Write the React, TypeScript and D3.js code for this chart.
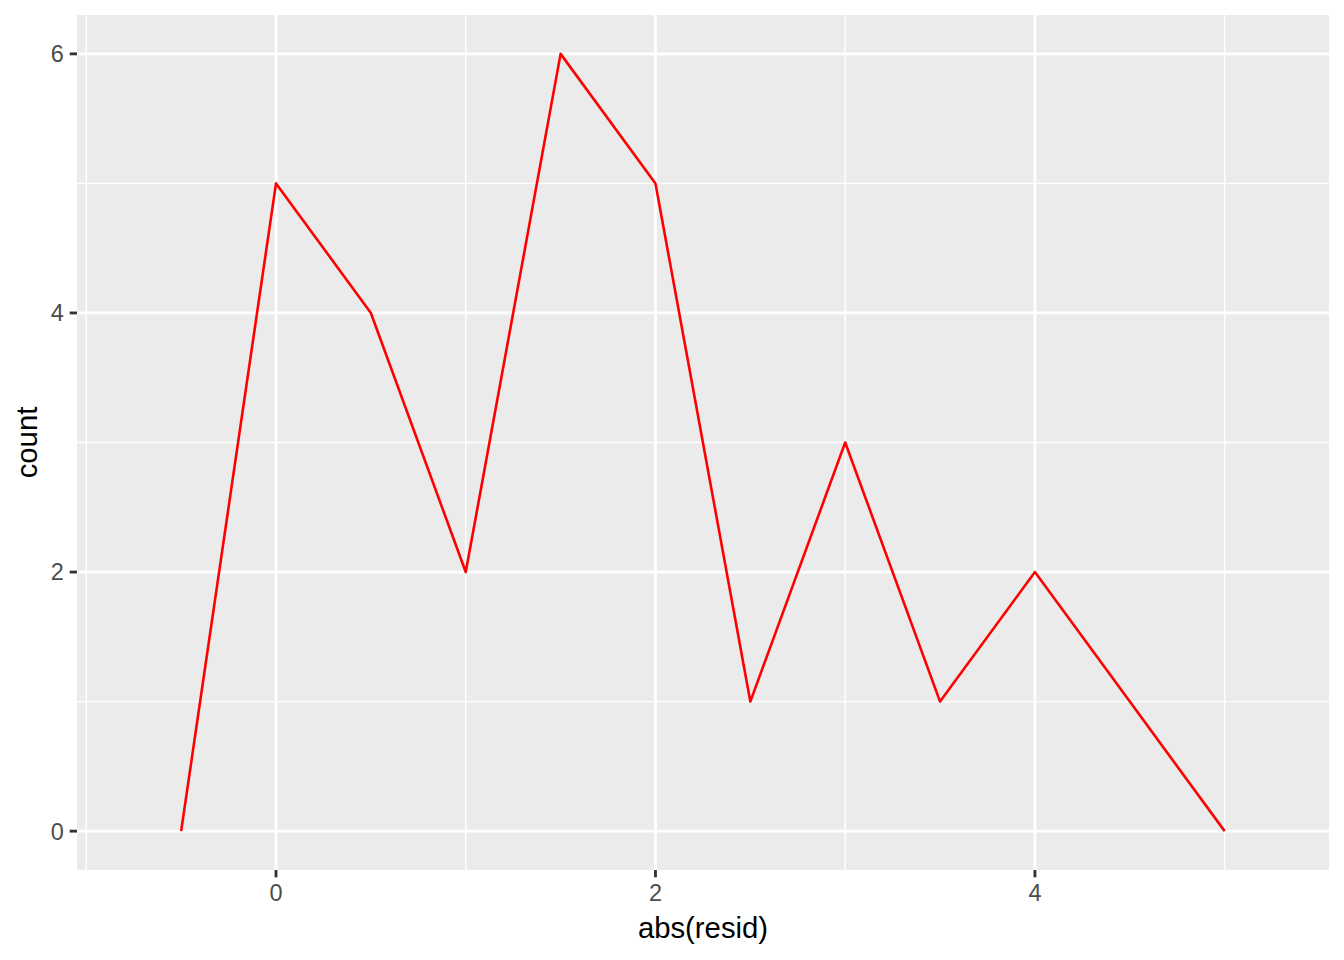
import React from "react";
import * as d3 from "d3";

const xValues = [-0.5, 0, 0.5, 1, 1.5, 2, 2.5, 3, 3.5, 4, 4.5, 5];
const counts = [0, 5, 4, 2, 6, 5, 1, 3, 1, 2, 1, 0];
const xBreaks = [0, 2, 4];
const xMinorBreaks = [-1, 1, 3, 5];
const yBreaks = [0, 2, 4, 6];
const yMinorBreaks = [1, 3, 5];
const xLimits = [-0.749, 5.25];
const yLimits = [0, 6];
const xTitle = "abs(resid)";
const yTitle = "count";

const W = 1344;
const H = 960;
const panel = { left: 77, right: 1329, top: 15, bottom: 870 };

function expand(lim: number[]) {
  const d = (lim[1] - lim[0]) * 0.05;
  return [lim[0] - d, lim[1] + d];
}

export default function App() {
  const x = d3.scaleLinear().domain(expand(xLimits)).range([panel.left, panel.right]);
  const y = d3.scaleLinear().domain(expand(yLimits)).range([panel.bottom, panel.top]);
  const line = d3
    .line<number>()
    .x((_, i) => x(xValues[i]))
    .y((d) => y(d));
  const font = "'Liberation Sans', Arial, Helvetica, sans-serif";
  const tickLen = 7.3;
  return (
    <svg width={W} height={H} style={{ position: "absolute", left: 0, top: 0 }} fontFamily={font}>
      <rect x={0} y={0} width={W} height={H} fill="#ffffff" />
      <rect
        x={panel.left}
        y={panel.top}
        width={panel.right - panel.left}
        height={panel.bottom - panel.top}
        fill="#EBEBEB"
      />
      {xMinorBreaks.map((b) => (
        <line key={"xm" + b} x1={x(b)} x2={x(b)} y1={panel.top} y2={panel.bottom} stroke="#fff" strokeWidth={1.42} />
      ))}
      {yMinorBreaks.map((b) => (
        <line key={"ym" + b} y1={y(b)} y2={y(b)} x1={panel.left} x2={panel.right} stroke="#fff" strokeWidth={1.42} />
      ))}
      {xBreaks.map((b) => (
        <line key={"xM" + b} x1={x(b)} x2={x(b)} y1={panel.top} y2={panel.bottom} stroke="#fff" strokeWidth={2.84} />
      ))}
      {yBreaks.map((b) => (
        <line key={"yM" + b} y1={y(b)} y2={y(b)} x1={panel.left} x2={panel.right} stroke="#fff" strokeWidth={2.84} />
      ))}
      <path d={line(counts) || ""} fill="none" stroke="#FF0000" strokeWidth={2.6} strokeLinejoin="round" />
      {xBreaks.map((b) => (
        <g key={"xt" + b}>
          <line x1={x(b)} x2={x(b)} y1={panel.bottom} y2={panel.bottom + tickLen} stroke="#333333" strokeWidth={2.84} />
          <text x={x(b)} y={panel.bottom + tickLen + 5.9 + 17.5} textAnchor="middle" fontSize={23.5} fill="#4D4D4D">
            {b}
          </text>
        </g>
      ))}
      {yBreaks.map((b) => (
        <g key={"yt" + b}>
          <line x1={panel.left - tickLen} x2={panel.left} y1={y(b)} y2={y(b)} stroke="#333333" strokeWidth={2.84} />
          <text x={panel.left - tickLen - 5.9} y={y(b) + 8.4} textAnchor="end" fontSize={23.5} fill="#4D4D4D">
            {b}
          </text>
        </g>
      ))}
      <text x={(panel.left + panel.right) / 2} y={938} textAnchor="middle" fontSize={29.3} fill="#000">
        {xTitle}
      </text>
      <text
        transform={`translate(37, ${(panel.top + panel.bottom) / 2}) rotate(-90)`}
        textAnchor="middle"
        fontSize={29.3}
        fill="#000"
      >
        {yTitle}
      </text>
    </svg>
  );
}
